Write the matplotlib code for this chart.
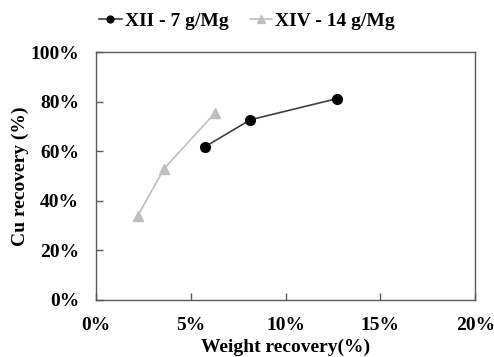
import matplotlib
matplotlib.use("Agg")
import matplotlib.pyplot as plt
from matplotlib.ticker import FuncFormatter

# weight recovery (%) and Cu recovery (%)
xii_weight = [5.75, 8.15, 12.7]
xii_cu = [61.8, 72.7, 81.2]
xiv_weight = [2.2, 3.6, 6.3]
xiv_cu = [33.8, 53.0, 75.6]
labels = ["XII - 7 g/Mg", "XIV - 14 g/Mg"]

plt.rcParams['font.family'] = ['Liberation Serif', 'DejaVu Serif']
plt.rcParams['font.weight'] = 'bold'

fig = plt.figure(figsize=(4.94, 3.57), dpi=100)
ax = fig.add_axes([0.194, 0.160, 0.768, 0.694])

ax.plot(xii_weight, xii_cu, color='#404040', lw=1.2, marker='o', ms=7,
        mfc='black', mec='black', label=labels[0], zorder=3)
ax.plot(xiv_weight, xiv_cu, color='#bfbfbf', lw=1.2, marker='^', ms=7.5,
        mfc='#bfbfbf', mec='#bfbfbf', label=labels[1], zorder=3)

ax.set_xlim(0, 20)
ax.set_ylim(0, 100)
ax.set_xticks([0, 5, 10, 15, 20])
ax.set_yticks([0, 20, 40, 60, 80, 100])
pct = FuncFormatter(lambda v, p: f"{v:.0f}%")
ax.xaxis.set_major_formatter(pct)
ax.yaxis.set_major_formatter(pct)
ax.tick_params(direction='in', length=5, width=1, color='#595959',
               labelsize=14, pad=12)
for s in ax.spines.values():
    s.set_color('#595959')
    s.set_linewidth(1)

ax.set_xlabel("Weight recovery(%)", fontsize=14, fontweight='bold', labelpad=4)
ax.set_ylabel("Cu recovery (%)", fontsize=14, fontweight='bold', labelpad=1)

fig.legend(loc='center', bbox_to_anchor=(0.5, 0.94), ncol=2, frameon=False,
           fontsize=14, handlelength=1.15, handletextpad=0.15, columnspacing=1.1,
           markerscale=0.7)

fig.savefig("out.png", dpi=100)
